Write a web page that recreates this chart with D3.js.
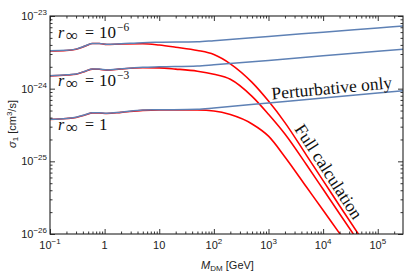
<!DOCTYPE html>
<html>
<head>
<meta charset="utf-8">
<script src="https://cdn.jsdelivr.net/npm/d3@7"></script>
<style>
  body { margin: 0; background: #fff; }
  svg { display: block; }
</style>
</head>
<body>
<div id="chart"></div>
<script>
// dark matter mass grid (GeV) for the perturbative curves
var massPert = [0.1, 0.2, 0.3, 0.45, 0.6, 0.8, 1.1, 2, 5, 10, 50, 100, 1e3, 1e4, 1e5, 3e5];
var pertR6 = [3.33e-24, 3.37e-24, 3.5e-24, 3.9e-24, 4.2e-24, 4.2e-24, 4.07e-24, 4.15e-24, 4.3e-24, 4.35e-24, 4.42e-24, 4.58e-24, 5.24e-24, 5.98e-24, 6.84e-24, 7.29e-24];
var pertR3 = [1.51e-24, 1.55e-24, 1.59e-24, 1.75e-24, 1.87e-24, 1.86e-24, 1.81e-24, 1.88e-24, 1.97e-24, 2.0e-24, 2.05e-24, 2.13e-24, 2.45e-24, 2.83e-24, 3.27e-24, 3.48e-24];
var pertR0 = [3.79e-25, 3.9e-25, 4.04e-25, 4.4e-25, 4.67e-25, 4.65e-25, 4.58e-25, 4.75e-25, 5.08e-25, 5.12e-25, 5.2e-25, 5.42e-25, 6.35e-25, 7.45e-25, 8.73e-25, 9.37e-25];

// mass grid for the full calculation
var massFull = [0.1, 0.2, 0.3, 0.45, 0.6, 0.8, 1.1, 2, 5, 10, 20, 50, 100, 200, 500, 1e3, 2e3, 5e3, 1e4, 2e4, 5e4];
var fullR6 = [3.3e-24, 3.35e-24, 3.48e-24, 3.88e-24, 4.18e-24, 4.18e-24, 4.05e-24, 4.12e-24, 4.15e-24, 3.98e-24, 3.72e-24, 3.36e-24, 2.95e-24, 2.2e-24, 1.22e-24, 6.74e-25, 3.41e-25, 1.2e-25, 5.43e-26, 2.45e-26, 8.7e-27];
var fullR3 = [1.5e-24, 1.54e-24, 1.58e-24, 1.74e-24, 1.86e-24, 1.85e-24, 1.8e-24, 1.87e-24, 1.94e-24, 1.93e-24, 1.86e-24, 1.74e-24, 1.58e-24, 1.35e-24, 7.85e-25, 4.45e-25, 2.38e-25, 8.9e-26, 4.12e-26, 1.9e-26, 6.9e-27];
var fullR0 = [3.77e-25, 3.88e-25, 4.02e-25, 4.38e-25, 4.65e-25, 4.63e-25, 4.56e-25, 4.72e-25, 5.03e-25, 5.1e-25, 5.1e-25, 5.08e-25, 4.93e-25, 4.4e-25, 3.27e-25, 2.22e-25, 1.15e-25, 4.39e-26, 2.12e-26, 1.02e-26, 3.9e-27];

// tick labels: [base, exponent]
var xTicks = [0.1, 1, 10, 100, 1e3, 1e4, 1e5];
var xTickLabels = [["10", "\u22121"], ["1", ""], ["10", ""], ["10", "2"], ["10", "3"], ["10", "4"], ["10", "5"]];
var yTicks = [1e-26, 1e-25, 1e-24, 1e-23];
var yTickLabels = [["10", "\u221226"], ["10", "\u221225"], ["10", "\u221224"], ["10", "\u221223"]];
var rLabels = [["10", "\u22126"], ["10", "\u22123"], ["1", ""]];

var W = 407, H = 272;
var margin = {top: 16, right: 4, bottom: 38, left: 50};
var width = W - margin.left - margin.right;
var height = H - margin.top - margin.bottom;

var x = d3.scaleLog().domain([0.1, 2.9e5]).range([0, width]);
var y = d3.scaleLog().domain([1e-26, 1e-23]).range([height, 0]);

var svg = d3.select("#chart").append("svg")
    .attr("width", W).attr("height", H)
    .style("font-family", "'Liberation Sans', Arial, sans-serif");

var g = svg.append("g")
    .attr("transform", "translate(" + margin.left + "," + margin.top + ")");

g.append("clipPath").attr("id", "clip")
  .append("rect").attr("width", width).attr("height", height);

var line = d3.line()
    .x(function(d) { return x(d[0]); })
    .y(function(d) { return y(d[1]); })
    .curve(d3.curveMonotoneX);

function pairs(ms, vs) { return ms.map(function(m, i) { return [m, vs[i]]; }); }

var plot = g.append("g").attr("clip-path", "url(#clip)");

[fullR6, fullR3, fullR0].forEach(function(s) {
  plot.append("path").datum(pairs(massFull, s))
    .attr("d", line).attr("fill", "none")
    .attr("stroke", "#ff0000").attr("stroke-width", 1.6);
});
[pertR6, pertR3, pertR0].forEach(function(s) {
  plot.append("path").datum(pairs(massPert, s))
    .attr("d", line).attr("fill", "none")
    .attr("stroke", "#5e81b5").attr("stroke-width", 1.5);
});

// minor tick values
function minors(lo, hi) {
  var out = [];
  for (var e = lo; e < hi; e++)
    for (var k = 2; k <= 9; k++) out.push(k * Math.pow(10, e));
  return out;
}
var xMinor = minors(-1, 6).filter(function(v) { return v <= 2.9e5; });
var yMinor = minors(-26, -23);

function frameAxis(axisFn, scale, ticks, size, tr) {
  var a = g.append("g").attr("transform", tr)
    .call(axisFn(scale).tickValues(ticks).tickSize(-size).tickFormat(""));
  a.select(".domain").remove();
  a.selectAll("line").attr("stroke", "#000").attr("stroke-width", 0.8);
  return a;
}

// inward ticks on all four sides
frameAxis(d3.axisBottom, x, xTicks, 5, "translate(0," + height + ")");
frameAxis(d3.axisBottom, x, xMinor, 2.5, "translate(0," + height + ")");
frameAxis(d3.axisTop, x, xTicks, 5, "translate(0,0)");
frameAxis(d3.axisTop, x, xMinor, 2.5, "translate(0,0)");
frameAxis(d3.axisLeft, y, yTicks, 5, "translate(0,0)");
frameAxis(d3.axisLeft, y, yMinor, 2.5, "translate(0,0)");
frameAxis(d3.axisRight, y, yTicks, 5, "translate(" + width + ",0)");
frameAxis(d3.axisRight, y, yMinor, 2.5, "translate(" + width + ",0)");

g.append("rect").attr("width", width).attr("height", height)
  .attr("fill", "none").attr("stroke", "#222").attr("stroke-width", 1.1);

// tick labels with superscripts
function powLabel(sel, lab) {
  sel.append("tspan").text(lab[0]);
  if (lab[1]) sel.append("tspan").attr("dy", -5).attr("font-size", 8).text(lab[1]);
}

xTicks.forEach(function(v, i) {
  var t = g.append("text")
    .attr("x", x(v)).attr("y", height + 15)
    .attr("text-anchor", "middle").attr("font-size", 11).attr("fill", "#222");
  powLabel(t, xTickLabels[i]);
});
yTicks.forEach(function(v, i) {
  var t = g.append("text")
    .attr("x", -3).attr("y", y(v) + 4)
    .attr("text-anchor", "end").attr("font-size", 11).attr("fill", "#222");
  powLabel(t, yTickLabels[i]);
});

// axis titles
var xt = svg.append("text")
  .attr("x", margin.left + width / 2 + 1).attr("y", 269)
  .attr("text-anchor", "middle").attr("font-size", 11).attr("fill", "#222");
xt.append("tspan").attr("font-style", "italic").text("M");
xt.append("tspan").attr("dy", 2).attr("font-size", 8).text("DM");
xt.append("tspan").attr("dy", -2).text(" [GeV]");

var yt = svg.append("text")
  .attr("transform", "translate(16," + (margin.top + height / 2 - 1) + ") rotate(-90)")
  .attr("text-anchor", "middle").attr("font-size", 11).attr("fill", "#222");
yt.append("tspan").attr("font-style", "italic").text("\u03c3");
yt.append("tspan").attr("dy", 2).attr("font-size", 8).text("1");
yt.append("tspan").attr("dy", -2).text(" [cm");
yt.append("tspan").attr("dy", -4).attr("font-size", 8).text("3");
yt.append("tspan").attr("dy", 4).text("/s]");

// curve labels (math-style spacing)
var serif = "'Liberation Serif', 'Times New Roman', serif";
var rY = [38, 86, 129.5];
rLabels.forEach(function(lab, i) {
  var x0 = 58;
  var t = svg.append("text").attr("y", rY[i])
    .attr("font-family", serif).attr("font-size", 16).attr("fill", "#111");
  t.append("tspan").attr("x", x0).attr("font-style", "italic").text("r");
  t.append("tspan").attr("x", x0 + 8).attr("dy", 3).attr("font-size", 17).text("\u221e");
  t.append("tspan").attr("x", x0 + 27).attr("dy", -3).text("=");
  t.append("tspan").attr("x", x0 + 41).attr("font-size", 17).text(lab[0]);
  if (lab[1]) t.append("tspan").attr("x", x0 + 59).attr("dy", -7).attr("font-size", 11.5).text(lab[1]);
});

svg.append("text")
  .attr("transform", "translate(272,99.5) rotate(-5.4)")
  .attr("font-family", serif).attr("font-size", 17.5).attr("fill", "#111")
  .text("Perturbative only");

svg.append("text")
  .attr("transform", "translate(294,129) rotate(57)")
  .attr("font-family", serif).attr("font-size", 17.5).attr("fill", "#111")
  .text("Full calculation");
</script>
</body>
</html>
